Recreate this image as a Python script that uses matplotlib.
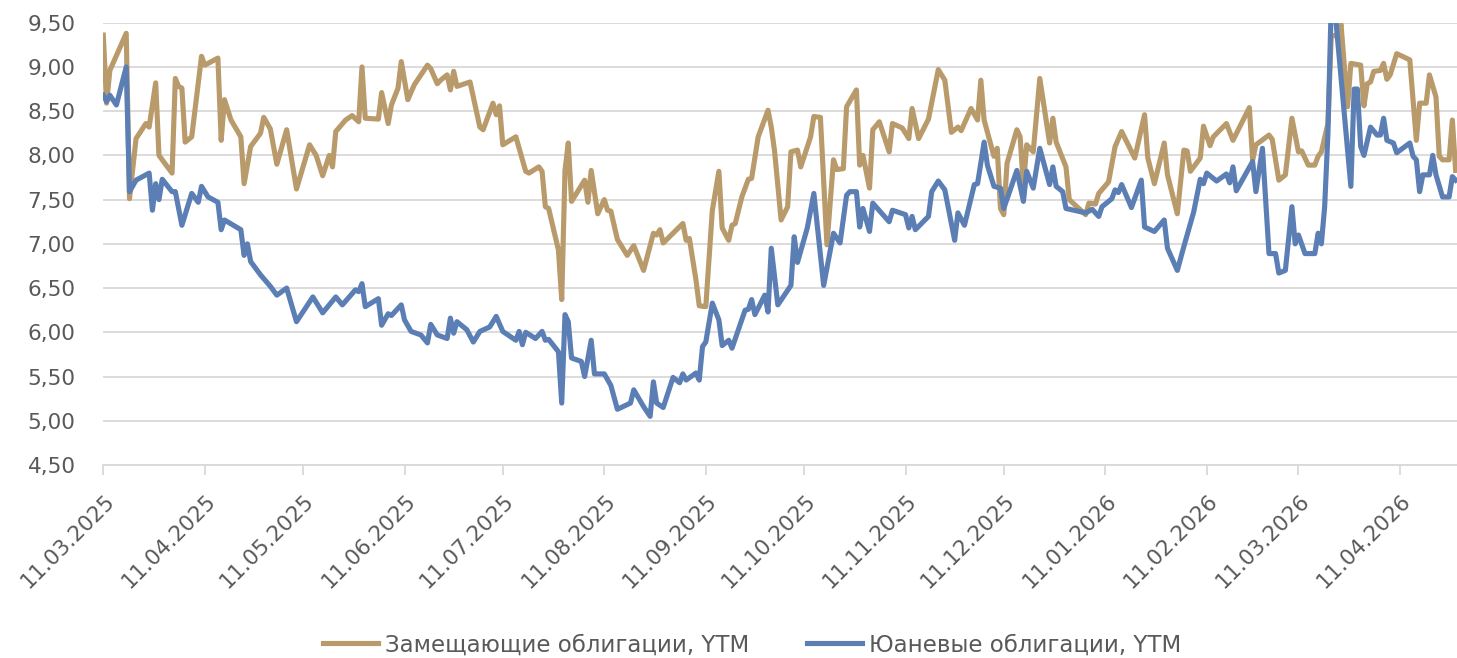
import numpy as np
import matplotlib
matplotlib.use("Agg")
import matplotlib.pyplot as plt
import matplotlib.dates as mdates
import matplotlib.transforms as mtransforms
from matplotlib.ticker import FuncFormatter

start = np.datetime64("2025-03-11")

# Замещающие облигации: day offset from 11.03.2025, YTM
zam_days = [0, 1, 2, 7, 8, 10, 13, 14, 16, 17, 21, 22, 23, 24, 25, 27, 30, 31, 35, 36,
            37, 39, 42, 43, 45, 48, 49, 51, 53, 56, 59, 63, 65, 67, 69, 70, 71, 74, 76, 78,
            79, 80, 84, 85, 87, 88, 90, 91, 93, 95, 97, 99, 100, 102, 103, 105, 106, 107, 108, 112,
            115, 116, 119, 120, 121, 122, 126, 129, 130, 133, 134, 135, 136, 139, 140, 141, 142, 143, 147, 148,
            149, 151, 153, 154, 155, 157, 160, 162, 165, 168, 169, 170, 171, 174, 177, 178, 179, 181, 182, 184,
            186, 188, 189, 191, 192, 193, 195, 197, 198, 200, 203, 204, 205, 207, 209, 210, 212, 213, 216, 217,
            219, 221, 223, 224, 226, 227, 230, 231, 232, 234, 235, 237, 240, 241, 244, 246, 247, 249, 252, 255,
            257, 259, 261, 262, 265, 267, 268, 269, 272, 273, 274, 275, 276, 279, 280, 281, 282, 284, 286, 289,
            290, 291, 294, 295, 300, 301, 303, 304, 307, 309, 311, 315, 318, 319, 321, 324, 325, 328, 330, 331,
            332, 335, 336, 338, 339, 343, 345, 350, 351, 352, 356, 357, 359, 361, 363, 365, 366, 368, 370, 371,
            372, 374, 375, 377, 378, 380, 381, 384, 385, 386, 387, 388, 390, 391, 392, 393, 395, 399, 401, 402,
            404, 405, 407, 408, 409, 411, 412, 413]
zam_ytm = [9.36, 8.59, 8.96, 9.38, 7.51, 8.19, 8.36, 8.32, 8.82, 8.00, 7.80, 8.87, 8.78, 8.76, 8.15, 8.21, 9.12, 9.02, 9.10, 8.17,
           8.63, 8.40, 8.21, 7.68, 8.10, 8.25, 8.43, 8.30, 7.90, 8.29, 7.62, 8.12, 8.00, 7.77, 8.00, 7.87, 8.27, 8.40, 8.45, 8.38,
           9.00, 8.42, 8.41, 8.71, 8.36, 8.57, 8.76, 9.06, 8.63, 8.80, 8.91, 9.02, 8.98, 8.81, 8.85, 8.91, 8.74, 8.95, 8.78, 8.83,
           8.32, 8.29, 8.59, 8.46, 8.56, 8.12, 8.21, 7.82, 7.80, 7.87, 7.82, 7.42, 7.40, 6.93, 6.37, 7.83, 8.14, 7.48, 7.72, 7.47,
           7.83, 7.34, 7.50, 7.38, 7.37, 7.05, 6.87, 6.98, 6.70, 7.12, 7.10, 7.16, 7.01, 7.12, 7.23, 7.04, 7.06, 6.59, 6.30, 6.29,
           7.38, 7.82, 7.18, 7.04, 7.21, 7.23, 7.53, 7.73, 7.74, 8.21, 8.51, 8.32, 8.05, 7.27, 7.42, 8.04, 8.06, 7.87, 8.21, 8.44,
           8.43, 6.99, 7.95, 7.84, 7.85, 8.55, 8.74, 7.89, 8.00, 7.63, 8.29, 8.38, 8.04, 8.36, 8.31, 8.19, 8.53, 8.19, 8.41, 8.97,
           8.85, 8.26, 8.32, 8.28, 8.53, 8.40, 8.85, 8.40, 7.99, 8.08, 7.40, 7.33, 7.91, 8.29, 8.21, 7.65, 8.12, 8.04, 8.87, 8.14,
           8.42, 8.15, 7.87, 7.50, 7.33, 7.46, 7.45, 7.57, 7.70, 8.10, 8.27, 7.97, 8.46, 7.97, 7.68, 8.14, 7.78, 7.34, 8.06, 8.05,
           7.82, 7.97, 8.33, 8.11, 8.21, 8.36, 8.17, 8.54, 7.95, 8.12, 8.23, 8.18, 7.72, 7.78, 8.42, 8.04, 8.05, 7.89, 7.89, 7.99,
           8.04, 8.36, 9.35, 9.36, 9.48, 8.55, 9.04, 9.02, 8.56, 8.81, 8.83, 8.95, 8.96, 9.04, 8.86, 8.91, 9.15, 9.08, 8.17, 8.59,
           8.59, 8.91, 8.66, 7.99, 7.95, 7.95, 8.40, 7.83]

# Юаневые облигации
yuan_days = [0, 1, 2, 4, 7, 8, 10, 14, 15, 16, 17, 18, 21, 22, 24, 27, 29, 30, 32, 35,
             36, 37, 42, 43, 44, 45, 48, 51, 53, 56, 59, 64, 67, 71, 73, 77, 78, 79, 80, 84,
             85, 87, 88, 91, 92, 94, 97, 99, 100, 102, 105, 106, 107, 108, 111, 113, 115, 118, 120, 122,
             126, 127, 128, 129, 132, 134, 135, 136, 139, 140, 141, 142, 143, 146, 147, 149, 150, 153, 155, 157,
             161, 162, 165, 167, 168, 169, 171, 174, 176, 177, 178, 181, 182, 183, 184, 186, 188, 189, 191, 192,
             196, 197, 198, 199, 202, 203, 204, 206, 210, 211, 212, 215, 217, 220, 223, 225, 227, 228, 230, 231,
             232, 234, 235, 240, 241, 245, 246, 247, 248, 252, 253, 255, 257, 260, 261, 263, 266, 267, 269, 270,
             272, 274, 275, 279, 281, 282, 284, 286, 289, 290, 291, 293, 294, 300, 302, 304, 305, 308, 309, 310,
             311, 314, 317, 318, 321, 324, 325, 328, 330, 331, 333, 335, 336, 337, 340, 343, 344, 345, 346, 351,
             352, 354, 356, 358, 359, 361, 363, 364, 365, 367, 370, 371, 372, 373, 374, 375, 376, 381, 382, 383,
             384, 385, 387, 389, 390, 391, 392, 394, 395, 399, 400, 401, 402, 403, 405, 406, 407, 409, 411, 412,
             413]
yuan_ytm = [8.68, 8.61, 8.68, 8.57, 9.00, 7.59, 7.72, 7.80, 7.38, 7.68, 7.50, 7.73, 7.59, 7.59, 7.21, 7.57, 7.47, 7.65, 7.53, 7.47,
            7.16, 7.27, 7.16, 6.87, 7.00, 6.80, 6.65, 6.52, 6.42, 6.50, 6.12, 6.40, 6.22, 6.40, 6.31, 6.48, 6.46, 6.55, 6.29, 6.38,
            6.08, 6.21, 6.19, 6.31, 6.14, 6.01, 5.97, 5.88, 6.09, 5.97, 5.93, 6.16, 5.99, 6.12, 6.03, 5.89, 6.01, 6.06, 6.18, 6.01,
            5.91, 6.01, 5.86, 6.00, 5.93, 6.01, 5.91, 5.92, 5.78, 5.20, 6.20, 6.12, 5.71, 5.67, 5.50, 5.91, 5.53, 5.53, 5.40, 5.13,
            5.20, 5.35, 5.16, 5.05, 5.44, 5.20, 5.15, 5.49, 5.43, 5.53, 5.46, 5.54, 5.46, 5.84, 5.89, 6.33, 6.14, 5.85, 5.91, 5.82,
            6.25, 6.26, 6.37, 6.20, 6.42, 6.23, 6.95, 6.31, 6.53, 7.08, 6.79, 7.18, 7.57, 6.53, 7.12, 7.01, 7.55, 7.59, 7.59, 7.19,
            7.40, 7.14, 7.46, 7.25, 7.38, 7.33, 7.18, 7.31, 7.16, 7.31, 7.59, 7.71, 7.61, 7.04, 7.35, 7.21, 7.67, 7.68, 8.15, 7.89,
            7.65, 7.63, 7.40, 7.83, 7.48, 7.82, 7.63, 8.08, 7.67, 7.87, 7.65, 7.59, 7.40, 7.35, 7.39, 7.31, 7.42, 7.51, 7.61, 7.58,
            7.67, 7.41, 7.72, 7.19, 7.14, 7.27, 6.95, 6.70, 6.97, 7.10, 7.36, 7.73, 7.68, 7.80, 7.71, 7.79, 7.69, 7.87, 7.60, 7.93,
            7.59, 8.08, 6.89, 6.89, 6.67, 6.70, 7.42, 7.00, 7.10, 6.89, 6.89, 7.12, 7.00, 7.42, 8.25, 9.70, 9.70, 7.65, 8.75, 8.75,
            8.10, 8.00, 8.32, 8.23, 8.23, 8.42, 8.17, 8.14, 8.03, 8.14, 7.99, 7.95, 7.59, 7.78, 7.78, 8.00, 7.78, 7.53, 7.53, 7.76,
            7.72]

labels = ["Замещающие облигации, YTM", "Юаневые облигации, YTM"]
colors = ["#B99A6B", "#5B7EB5"]
text_color = "#595959"
grid_color = "#D9D9D9"

zam_dates = start + np.array(zam_days).astype("timedelta64[D]")
yuan_dates = start + np.array(yuan_days).astype("timedelta64[D]")

plt.rcParams["font.family"] = ["DejaVu Sans"]

fig = plt.figure(figsize=(14.57, 6.58), dpi=100)
ax = fig.add_axes([103.3 / 1457, 1 - 465 / 658, 1 - 103.3 / 1457, (465 - 22.7) / 658])

ax.plot(zam_dates, zam_ytm, color=colors[0], lw=3.7, solid_joinstyle="round", label=labels[0])
ax.plot(yuan_dates, yuan_ytm, color=colors[1], lw=3.7, solid_joinstyle="round", label=labels[1])

ax.set_ylim(4.5, 9.5)
ax.set_yticks(np.arange(4.5, 9.51, 0.5))
ax.yaxis.set_major_formatter(FuncFormatter(lambda v, p: f"{v:.2f}".replace(".", ",")))
ax.grid(axis="y", color=grid_color, lw=1.3)
ax.set_axisbelow(True)

ax.set_xlim(start, start + np.timedelta64(413 * 24 + 10, "h"))
ax.xaxis.set_major_locator(mdates.MonthLocator(bymonthday=11))
ax.xaxis.set_major_formatter(mdates.DateFormatter("%d.%m.%Y"))

for s in ["top", "right", "left"]:
    ax.spines[s].set_visible(False)
ax.spines["bottom"].set_color(grid_color)
ax.spines["bottom"].set_linewidth(1.3)

ax.tick_params(axis="y", length=0, pad=20, labelsize=15.5, labelcolor=text_color)
ax.tick_params(axis="x", length=7, width=1.3, color=grid_color, pad=6,
               labelsize=15.5, labelcolor=text_color)

# shift the rotated date labels a bit right and down, like the original
shift = mtransforms.ScaledTranslation(8 / 100, -15 / 100, fig.dpi_scale_trans)
for t in ax.get_xticklabels():
    t.set_rotation(45)
    t.set_ha("right")
    t.set_va("center")
    t.set_rotation_mode("anchor")
    t.set_transform(t.get_transform() + shift)

fig.legend(loc="center", bbox_to_anchor=(752 / 1457, 1 - 645 / 658), ncol=2, frameon=False,
           fontsize=16.5, labelcolor=text_color, handlelength=2.4, handletextpad=0.3,
           columnspacing=2.5, borderpad=0)

fig.savefig("out.png", dpi=100)
